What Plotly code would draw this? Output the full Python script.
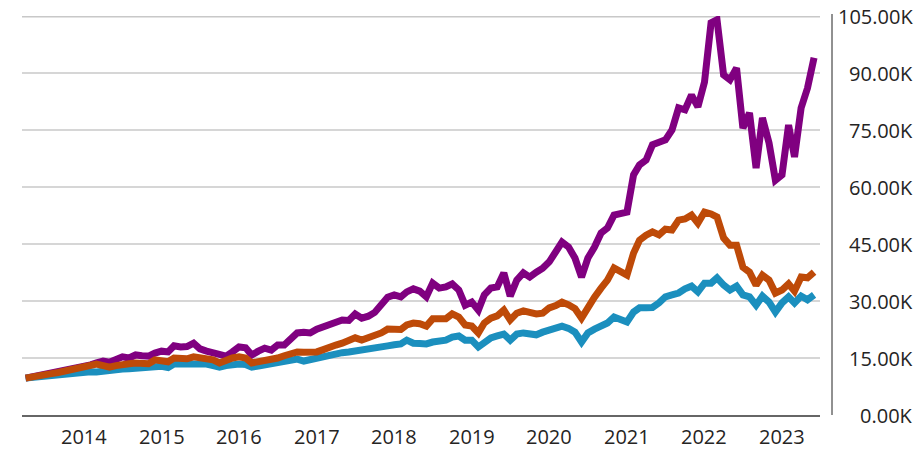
import pandas as pd
import plotly.graph_objects as go

start_month = "2013-04-01"

purple = [9.7, 10.0, 10.3, 10.6, 11.1, 11.3, 11.8, 12.0, 12.3, 12.6,
          13.2, 13.7, 14.2, 13.9, 14.6, 15.3, 15.0, 15.8, 15.6, 15.5,
          16.3, 16.8, 16.6, 18.2, 17.9, 18.0, 18.9, 17.4, 16.8, 16.2,
          15.8, 15.5, 16.6, 17.9, 17.7, 15.8, 16.8, 17.6, 17.1, 18.4,
          18.4, 20.3, 21.6, 21.8, 21.6, 22.6, 23.2, 23.7, 24.3, 25.0,
          24.9, 26.6, 25.5, 26.0, 27.0, 29.0, 31.0, 31.6, 31.1, 32.4,
          33.2, 32.6, 31.1, 34.7, 33.4, 33.7, 34.5, 32.9, 28.9, 29.7,
          27.6, 31.6, 33.4, 33.7, 37.4, 31.3, 35.5, 37.4, 36.3, 37.6,
          38.6, 40.3, 43.0, 45.5, 44.2, 41.3, 36.3, 41.3, 44.2, 47.9,
          49.2, 52.6, 53.0, 53.4, 63.2, 65.8, 67.1, 71.1, 71.8, 72.4,
          75.0, 80.8, 80.3, 84.2, 81.1, 87.6, 103.2, 104.0, 89.5, 88.2,
          91.3, 75.5, 79.5, 65.0, 78.2, 71.6, 61.8, 63.2, 76.3, 67.9,
          80.8, 86.0, 94.0]

orange = [9.7, 9.9, 10.1, 10.5, 10.9, 11.2, 11.6, 11.9, 12.2, 12.5,
          12.9, 13.4, 13.0, 12.6, 13.0, 13.4, 13.5, 13.7, 13.6, 13.5,
          14.5, 14.2, 14.0, 15.0, 14.9, 14.8, 15.3, 15.0, 14.8, 14.5,
          13.7, 14.5, 15.0, 15.3, 15.0, 13.7, 14.0, 14.2, 14.4, 15.0,
          15.6, 16.0, 16.6, 16.5, 16.4, 16.6, 17.2, 17.9, 18.4, 18.9,
          19.5, 20.3, 19.7, 20.2, 20.8, 21.6, 22.6, 22.6, 22.5, 23.7,
          24.2, 24.0, 23.4, 25.3, 25.3, 25.3, 26.6, 25.8, 23.7, 23.4,
          21.6, 24.2, 25.5, 26.1, 27.6, 25.0, 26.8, 27.4, 27.0, 26.6,
          26.8, 28.2, 28.8, 29.7, 29.0, 28.0, 25.5, 28.5, 31.0, 33.4,
          35.5, 38.7, 37.8, 36.8, 42.6, 46.0, 47.3, 48.2, 47.4, 48.9,
          48.7, 51.3, 51.6, 52.6, 50.5, 53.4, 52.9, 52.1, 46.6, 44.7,
          44.7, 38.9, 37.6, 34.2, 36.8, 35.5, 32.1, 32.9, 34.5, 32.6,
          36.3, 36.1, 37.6]

blue = [9.7, 9.9, 10.1, 10.3, 10.5, 10.7, 10.9, 11.0, 11.2, 11.3,
        11.4, 11.3, 11.6, 11.8, 11.9, 12.1, 12.2, 12.4, 12.5, 12.6,
        12.6, 12.8, 12.5, 13.4, 13.4, 13.5, 13.4, 13.4, 13.4, 13.0,
        12.6, 13.0, 13.4, 13.4, 13.3, 12.6, 12.9, 13.2, 13.3, 13.4,
        13.9, 14.3, 14.7, 14.2, 14.6, 15.0, 15.3, 15.8, 16.3, 16.4,
        16.6, 16.8, 17.1, 17.3, 17.6, 17.9, 18.2, 18.5, 18.7, 19.7,
        18.9, 18.8, 18.7, 19.2, 19.4, 19.7, 20.5, 20.8, 19.7, 19.7,
        17.9, 19.2, 20.3, 20.8, 21.3, 19.7, 21.3, 21.6, 21.3, 21.1,
        21.8, 22.5, 23.0, 23.4, 22.8, 21.8, 19.2, 21.6, 22.6, 23.5,
        24.2, 25.8, 25.0, 24.5, 27.1, 28.2, 28.2, 28.3, 29.5, 31.1,
        31.6, 32.1, 33.2, 33.9, 32.4, 34.7, 34.7, 36.1, 34.2, 32.9,
        33.9, 31.6, 31.1, 28.9, 31.3, 29.7, 27.1, 29.5, 31.1, 29.5,
        31.3, 30.3, 31.6]

year_ticks = ["2014-01-01", "2015-01-01", "2016-01-01", "2017-01-01", "2018-01-01",
              "2019-01-01", "2020-01-01", "2021-01-01", "2022-01-01", "2023-01-01"]
year_labels = ["2014", "2015", "2016", "2017", "2018",
               "2019", "2020", "2021", "2022", "2023"]
y_ticks = [0, 15, 30, 45, 60, 75, 90, 105]
y_labels = ["0.00K", "15.00K", "30.00K", "45.00K", "60.00K", "75.00K", "90.00K", "105.00K"]

dates = pd.date_range(start_month, periods=len(purple), freq="MS")

W, H = 918, 450
ML, MR, MT, MB = 22, 0, 16, 35
plot_w = W - ML - MR
plot_h = H - MT - MB
x_dom_end = (820 - ML) / plot_w
FONT = "Open Sans, Noto Sans, sans-serif"
TXT = "#252423"

fig = go.Figure()
series = [("Purple", purple, "#800080"), ("Blue", blue, "#1B8FBE"), ("Orange", orange, "#BE4A08")]
for name, vals, col in series:
    fig.add_trace(go.Scatter(x=dates, y=vals, mode="lines", name=name,
                             line=dict(color=col, width=7), hoverinfo="skip"))

annotations = []
for tv, tl in zip(year_ticks, year_labels):
    annotations.append(dict(x=tv, xref="x", y=-21 / plot_h, yref="paper",
                            text=tl, showarrow=False, xanchor="center", yanchor="middle",
                            font=dict(family=FONT, size=20, color=TXT)))
for tv, tl in zip(y_ticks, y_labels):
    annotations.append(dict(x=(915 - ML) / plot_w, xref="paper", y=tv, yref="y",
                            text=tl, showarrow=False, xanchor="right", yanchor="middle",
                            font=dict(family=FONT, size=20, color=TXT)))

fig.update_layout(
    width=W, height=H,
    margin=dict(l=ML, r=MR, t=MT, b=MB, pad=0),
    paper_bgcolor="white", plot_bgcolor="white",
    showlegend=False,
    font=dict(family=FONT, size=20, color=TXT),
    xaxis=dict(domain=[0, x_dom_end], type="date",
               range=["2013-03-15", "2023-06-29"],
               tickvals=year_ticks, showticklabels=False,
               showgrid=False, zeroline=False,
               showline=True, linecolor="#666666", linewidth=2, ticks=""),
    yaxis=dict(range=[0, 105], tickvals=y_ticks, showticklabels=False,
               showgrid=True, gridcolor="#D6D6D6", gridwidth=2,
               zeroline=False, showline=False, ticks=""),
    annotations=annotations,
    shapes=[
        dict(type="line", xref="x domain", yref="y", x0=0, x1=1, y0=105, y1=105,
             line=dict(color="#C8C8C8", width=3), layer="below"),
        dict(type="line", xref="paper", yref="paper",
             x0=(832 - ML) / plot_w, x1=(832 - ML) / plot_w,
             y0=0, y1=1.005, line=dict(color="#222222", width=1)),
    ],
)

fig.write_html("out.html",
               config={"displayModeBar": False, "staticPlot": True},
               post_script="document.body.style.margin='0';document.body.style.padding='0';document.body.style.overflow='hidden';")
